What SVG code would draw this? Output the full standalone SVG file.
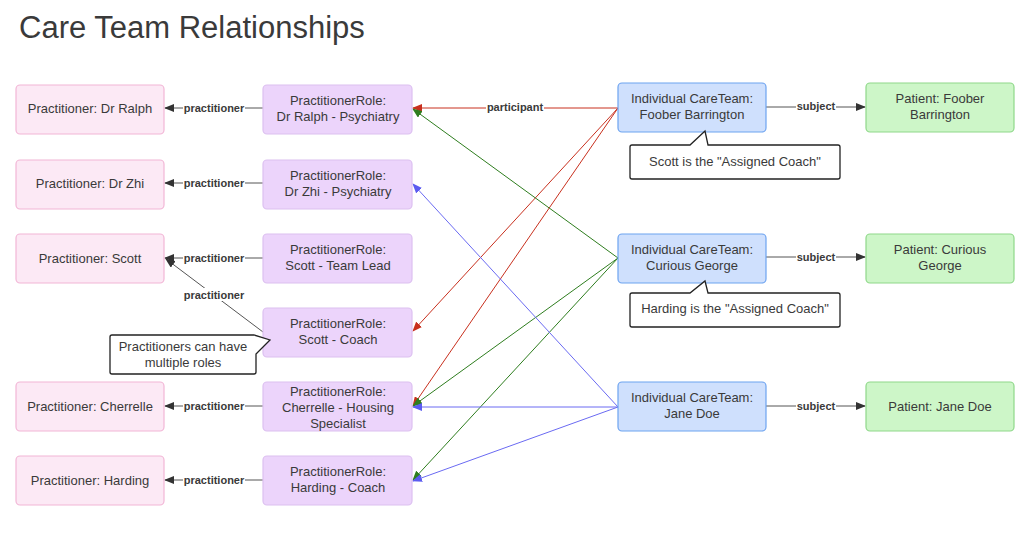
<svg xmlns="http://www.w3.org/2000/svg" width="1035" height="538" viewBox="0 0 1035 538">
<style>
text{font-family:"Liberation Sans",Arial,sans-serif;fill:#3a3a3a}
.t{font-size:13px;text-anchor:middle}
.l{font-size:11px;font-weight:bold;text-anchor:middle}
.pr{fill:#fce9f5;stroke:#f2b6d6;stroke-width:1.2}
.ro{fill:#ecd4fb;stroke:#dcc0f0;stroke-width:1.2}
.ct{fill:#cfe0fd;stroke:#6da3f0;stroke-width:1.2}
.pa{fill:#cdf6c8;stroke:#8fd88a;stroke-width:1.2}
.co{fill:#fff;stroke:#222;stroke-width:1.3}
.lb{fill:#fff}
</style>
<defs>
<marker id="ak" markerWidth="10" markerHeight="8" refX="9" refY="4" orient="auto" markerUnits="userSpaceOnUse"><path d="M0,0L10,4L0,8z" fill="#333"/></marker>
<marker id="ar" markerWidth="10" markerHeight="8" refX="9" refY="4" orient="auto" markerUnits="userSpaceOnUse"><path d="M0,0L10,4L0,8z" fill="#c8301e"/></marker>
<marker id="ag" markerWidth="10" markerHeight="8" refX="9" refY="4" orient="auto" markerUnits="userSpaceOnUse"><path d="M0,0L10,4L0,8z" fill="#2e7d1e"/></marker>
<marker id="ab" markerWidth="10" markerHeight="8" refX="9" refY="4" orient="auto" markerUnits="userSpaceOnUse"><path d="M0,0L10,4L0,8z" fill="#5b5bf0"/></marker>
</defs>
<text x="19" y="38" font-size="31" style="fill:#3a3a3a">Care Team Relationships</text>

<g id="connectors" fill="none">
<g stroke="#555" stroke-width="1">
<line x1="263" y1="108" x2="165" y2="108" marker-end="url(#ak)"/>
<line x1="263" y1="183" x2="165" y2="183" marker-end="url(#ak)"/>
<line x1="263" y1="258" x2="165" y2="258" marker-end="url(#ak)"/>
<line x1="263" y1="332" x2="166" y2="259" marker-end="url(#ak)"/>
<line x1="263" y1="406" x2="165" y2="406" marker-end="url(#ak)"/>
<line x1="263" y1="480" x2="165" y2="480" marker-end="url(#ak)"/>
<line x1="766" y1="107" x2="865" y2="107" marker-end="url(#ak)"/>
<line x1="766" y1="257" x2="865" y2="257" marker-end="url(#ak)"/>
<line x1="766" y1="406" x2="865" y2="406" marker-end="url(#ak)"/>
</g>
<g stroke="#c8301e" stroke-width="1">
<line x1="618" y1="108" x2="413" y2="108" marker-end="url(#ar)"/>
<line x1="618" y1="108" x2="413" y2="331" marker-end="url(#ar)"/>
<line x1="618" y1="108" x2="413" y2="406" marker-end="url(#ar)"/>
</g>
<g stroke="#2e7d1e" stroke-width="1">
<line x1="618" y1="258" x2="413" y2="109" marker-end="url(#ag)"/>
<line x1="618" y1="258" x2="413" y2="406" marker-end="url(#ag)"/>
<line x1="618" y1="258" x2="413" y2="480" marker-end="url(#ag)"/>
</g>
<g stroke="#6a6af2" stroke-width="1">
<line x1="618" y1="407" x2="413" y2="184" marker-end="url(#ab)"/>
<line x1="618" y1="407" x2="413" y2="407" marker-end="url(#ab)"/>
<line x1="618" y1="407" x2="413" y2="481" marker-end="url(#ab)"/>
</g>
<g>
<rect class="lb" x="183" y="101" width="62" height="13"/><text class="l" x="214" y="112">practitioner</text>
<rect class="lb" x="183" y="176" width="62" height="13"/><text class="l" x="214" y="187">practitioner</text>
<rect class="lb" x="183" y="251" width="62" height="13"/><text class="l" x="214" y="262">practitioner</text>
<rect class="lb" x="183" y="288" width="62" height="13"/><text class="l" x="214" y="299">practitioner</text>
<rect class="lb" x="183" y="399" width="62" height="13"/><text class="l" x="214" y="410">practitioner</text>
<rect class="lb" x="183" y="473" width="62" height="13"/><text class="l" x="214" y="484">practitioner</text>
<rect class="lb" x="486" y="101" width="58" height="13"/><text class="l" x="515" y="111">participant</text>
<rect class="lb" x="796" y="100" width="40" height="13"/><text class="l" x="816" y="110">subject</text>
<rect class="lb" x="796" y="250" width="40" height="13"/><text class="l" x="816" y="261">subject</text>
<rect class="lb" x="796" y="399" width="40" height="13"/><text class="l" x="816" y="410">subject</text>
</g>
</g>

<g id="p-ralph"><rect class="pr" x="16" y="85" width="148" height="49" rx="4"/><text class="t" x="90" y="113">Practitioner: Dr Ralph</text></g>
<g id="p-zhi"><rect class="pr" x="16" y="160" width="148" height="49" rx="4"/><text class="t" x="90" y="188">Practitioner: Dr Zhi</text></g>
<g id="p-scott"><rect class="pr" x="16" y="234" width="148" height="49" rx="4"/><text class="t" x="90" y="263">Practitioner: Scott</text></g>
<g id="p-cherrelle"><rect class="pr" x="16" y="382" width="148" height="49" rx="4"/><text class="t" x="90" y="411">Practitioner: Cherrelle</text></g>
<g id="p-harding"><rect class="pr" x="16" y="456" width="148" height="49" rx="4"/><text class="t" x="90" y="485">Practitioner: Harding</text></g>

<g id="r-ralph"><rect class="ro" x="263" y="85" width="149" height="49" rx="4"/><text class="t" x="338" y="105">PractitionerRole:</text><text class="t" x="338" y="121">Dr Ralph - Psychiatry</text></g>
<g id="r-zhi"><rect class="ro" x="263" y="160" width="149" height="49" rx="4"/><text class="t" x="338" y="180">PractitionerRole:</text><text class="t" x="338" y="196">Dr Zhi - Psychiatry</text></g>
<g id="r-scott-lead"><rect class="ro" x="263" y="234" width="149" height="49" rx="4"/><text class="t" x="338" y="254">PractitionerRole:</text><text class="t" x="338" y="270">Scott - Team Lead</text></g>
<g id="r-scott-coach"><rect class="ro" x="263" y="308" width="149" height="49" rx="4"/><text class="t" x="338" y="328">PractitionerRole:</text><text class="t" x="338" y="344">Scott - Coach</text></g>
<g id="r-cherrelle"><rect class="ro" x="263" y="382" width="149" height="49" rx="4"/><text class="t" x="338" y="396">PractitionerRole:</text><text class="t" x="338" y="412">Cherrelle - Housing</text><text class="t" x="338" y="428">Specialist</text></g>
<g id="r-harding"><rect class="ro" x="263" y="456" width="149" height="49" rx="4"/><text class="t" x="338" y="476">PractitionerRole:</text><text class="t" x="338" y="492">Harding - Coach</text></g>

<g id="ct-foober"><rect class="ct" x="618" y="83" width="148" height="49" rx="4"/><text class="t" x="692" y="103">Individual CareTeam:</text><text class="t" x="692" y="119">Foober Barrington</text></g>
<g id="ct-george"><rect class="ct" x="618" y="234" width="148" height="49" rx="4"/><text class="t" x="692" y="254">Individual CareTeam:</text><text class="t" x="692" y="270">Curious George</text></g>
<g id="ct-jane"><rect class="ct" x="618" y="382" width="148" height="49" rx="4"/><text class="t" x="692" y="402">Individual CareTeam:</text><text class="t" x="692" y="418">Jane Doe</text></g>

<g id="pt-foober"><rect class="pa" x="866" y="83" width="148" height="49" rx="4"/><text class="t" x="940" y="103">Patient: Foober</text><text class="t" x="940" y="119">Barrington</text></g>
<g id="pt-george"><rect class="pa" x="866" y="234" width="148" height="49" rx="4"/><text class="t" x="940" y="254">Patient: Curious</text><text class="t" x="940" y="270">George</text></g>
<g id="pt-jane"><rect class="pa" x="866" y="382" width="148" height="49" rx="4"/><text class="t" x="940" y="411">Patient: Jane Doe</text></g>

<g id="note-roles"><path class="co" d="M112,335H254L270,340L256,354V372Q256,374 254,374H112Q110,374 110,372V337Q110,335 112,335Z"/><text class="t" x="183" y="351">Practitioners can have</text><text class="t" x="183" y="367">multiple roles</text></g>
<g id="note-scott"><path class="co" d="M632,145H690L705,131L708,145H838Q840,145 840,147V177Q840,179 838,179H632Q630,179 630,177V147Q630,145 632,145Z"/><text class="t" x="735" y="166">Scott is the "Assigned Coach"</text></g>
<g id="note-harding"><path class="co" d="M632,293H690L705,281L708,293H838Q840,293 840,295V325Q840,327 838,327H632Q630,327 630,325V295Q630,293 632,293Z"/><text class="t" x="735" y="313">Harding is the "Assigned Coach"</text></g>
</svg>
